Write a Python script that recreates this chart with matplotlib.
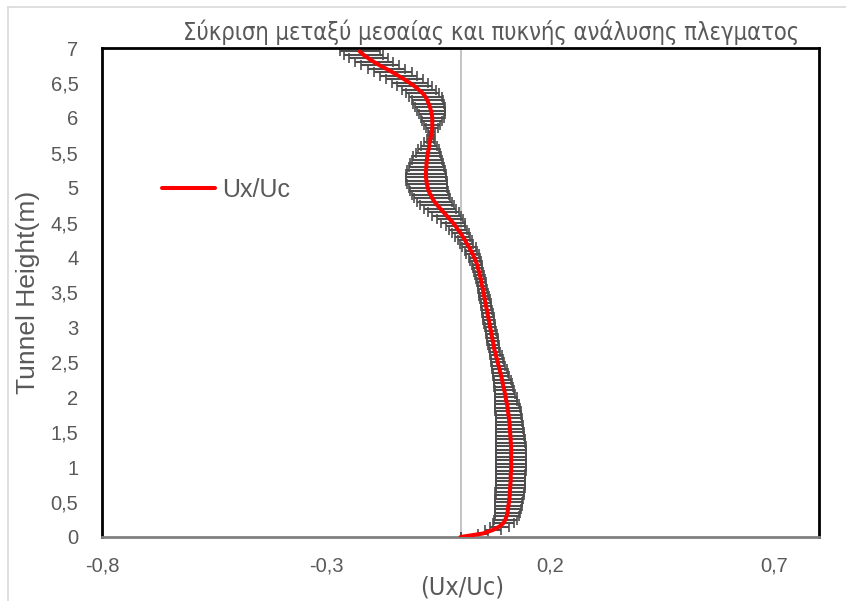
import matplotlib
matplotlib.use("Agg")
import matplotlib.pyplot as plt
from matplotlib.lines import Line2D

# ---- data ----
heights = [0.00, 0.05, 0.10, 0.15, 0.20, 0.25, 0.30, 0.35, 0.40, 0.45,
           0.50, 0.55, 0.60, 0.65, 0.70, 0.75, 0.80, 0.85, 0.90, 0.95,
           1.00, 1.05, 1.10, 1.15, 1.20, 1.25, 1.30, 1.35, 1.40, 1.45,
           1.50, 1.55, 1.60, 1.65, 1.70, 1.75, 1.80, 1.85, 1.90, 1.95,
           2.00, 2.05, 2.10, 2.15, 2.20, 2.25, 2.30, 2.35, 2.40, 2.45,
           2.50, 2.55, 2.60, 2.65, 2.70, 2.75, 2.80, 2.85, 2.90, 2.95,
           3.00, 3.05, 3.10, 3.15, 3.20, 3.25, 3.30, 3.35, 3.40, 3.45,
           3.50, 3.55, 3.60, 3.65, 3.70, 3.75, 3.80, 3.85, 3.90, 3.95,
           4.00, 4.05, 4.10, 4.15, 4.20, 4.25, 4.30, 4.35, 4.40, 4.45,
           4.50, 4.55, 4.60, 4.65, 4.70, 4.75, 4.80, 4.85, 4.90, 4.95,
           5.00, 5.05, 5.10, 5.15, 5.20, 5.25, 5.30, 5.35, 5.40, 5.45,
           5.50, 5.55, 5.60, 5.65, 5.70, 5.75, 5.80, 5.85, 5.90, 5.95,
           6.00, 6.05, 6.10, 6.15, 6.20, 6.25, 6.30, 6.35, 6.40, 6.45,
           6.50, 6.55, 6.60, 6.65, 6.70, 6.75, 6.80, 6.85, 6.90, 6.95]

ux_uc = [0.000, 0.050, 0.072, 0.087, 0.096, 0.100, 0.103, 0.105, 0.106, 0.107,
         0.108, 0.109, 0.110, 0.110, 0.111, 0.111, 0.112, 0.112, 0.112, 0.113,
         0.113, 0.113, 0.113, 0.113, 0.113, 0.113, 0.113, 0.112, 0.112, 0.111,
         0.111, 0.110, 0.110, 0.109, 0.108, 0.107, 0.106, 0.105, 0.104, 0.102,
         0.101, 0.099, 0.098, 0.096, 0.094, 0.093, 0.091, 0.089, 0.087, 0.085,
         0.083, 0.081, 0.079, 0.077, 0.075, 0.074, 0.072, 0.071, 0.069, 0.068,
         0.066, 0.065, 0.063, 0.062, 0.060, 0.059, 0.057, 0.056, 0.054, 0.053,
         0.051, 0.050, 0.048, 0.046, 0.045, 0.043, 0.041, 0.039, 0.037, 0.034,
         0.031, 0.027, 0.023, 0.019, 0.014, 0.010, 0.005, 0.000, -0.006, -0.011,
         -0.017, -0.024, -0.031, -0.038, -0.045, -0.052, -0.058, -0.063, -0.067, -0.071,
         -0.073, -0.075, -0.076, -0.077, -0.077, -0.077, -0.076, -0.076, -0.075, -0.074,
         -0.073, -0.071, -0.070, -0.069, -0.067, -0.066, -0.064, -0.063, -0.063, -0.063,
         -0.063, -0.064, -0.066, -0.068, -0.071, -0.074, -0.078, -0.084, -0.093, -0.102,
         -0.113, -0.125, -0.138, -0.151, -0.165, -0.180, -0.193, -0.205, -0.216, -0.225]

error = [0.000, 0.012, 0.018, 0.022, 0.024, 0.026, 0.027, 0.028, 0.029, 0.030,
         0.030, 0.031, 0.031, 0.032, 0.032, 0.032, 0.033, 0.033, 0.033, 0.033,
         0.033, 0.033, 0.033, 0.033, 0.033, 0.033, 0.033, 0.032, 0.032, 0.031,
         0.031, 0.030, 0.030, 0.029, 0.029, 0.028, 0.028, 0.027, 0.026, 0.025,
         0.024, 0.023, 0.022, 0.021, 0.020, 0.019, 0.018, 0.017, 0.016, 0.015,
         0.014, 0.013, 0.013, 0.012, 0.012, 0.012, 0.012, 0.012, 0.012, 0.012,
         0.012, 0.012, 0.012, 0.012, 0.012, 0.012, 0.011, 0.011, 0.011, 0.011,
         0.010, 0.010, 0.010, 0.010, 0.010, 0.010, 0.010, 0.010, 0.011, 0.012,
         0.013, 0.014, 0.014, 0.015, 0.015, 0.016, 0.017, 0.018, 0.020, 0.022,
         0.026, 0.029, 0.032, 0.034, 0.036, 0.038, 0.039, 0.040, 0.041, 0.042,
         0.043, 0.044, 0.045, 0.045, 0.044, 0.042, 0.040, 0.037, 0.034, 0.031,
         0.027, 0.023, 0.018, 0.013, 0.008, 0.004, 0.008, 0.013, 0.018, 0.022,
         0.026, 0.029, 0.031, 0.033, 0.034, 0.035, 0.036, 0.037, 0.038, 0.039,
         0.040, 0.041, 0.041, 0.042, 0.042, 0.043, 0.043, 0.044, 0.044, 0.045]

x_ticks = [-0.8, -0.3, 0.2, 0.7]
x_tick_labels = ["-0,8", "-0,3", "0,2", "0,7"]
y_ticks = [0, 0.5, 1, 1.5, 2, 2.5, 3, 3.5, 4, 4.5, 5, 5.5, 6, 6.5, 7]
y_tick_labels = ["0", "0,5", "1", "1,5", "2", "2,5", "3", "3,5", "4", "4,5",
                 "5", "5,5", "6", "6,5", "7"]

title = "Σύκριση μεταξύ μεσαίας και πυκνής ανάλυσης πλεγματος"
series_name = "Ux/Uc"
x_label = "(Ux/Uc)"
y_label = "Tunnel Height(m)"

# ---- figure ----
W, H = 846, 601
fig = plt.figure(figsize=(W / 100, H / 100), dpi=100)
normal = ["Liberation Sans", "DejaVu Sans"]
grey = "#595959"

ax = fig.add_axes([102 / W, 1 - 537 / H, (819 - 102) / W, (537 - 48) / H])
ax.set_xlim(-0.8, 0.8)
ax.set_ylim(0, 7)

ax.axvline(0, color="#bfbfbf", lw=1.3, zorder=1)

ax.errorbar(ux_uc, heights, xerr=error, fmt="none", ecolor="#4d4d4d",
            elinewidth=1.5, capsize=3.6, capthick=1.2, zorder=2)
line, = ax.plot(ux_uc, heights, color="#ff0000", lw=2.9, zorder=3,
                solid_capstyle="round")

ax.set_xticks(x_ticks)
ax.set_xticklabels(x_tick_labels)
ax.set_yticks(y_ticks)
ax.set_yticklabels(y_tick_labels)
ax.tick_params(axis="both", length=0, colors=grey, labelsize=14.5)
ax.tick_params(axis="y", pad=17)
ax.tick_params(axis="x", pad=14)
for lab in ax.get_xticklabels() + ax.get_yticklabels():
    lab.set_family(normal)

for side in ("left", "top", "right"):
    ax.spines[side].set_color("black")
    ax.spines[side].set_linewidth(2.0)
ax.spines["bottom"].set_color("#808080")
ax.spines["bottom"].set_linewidth(2.0)

fig.text(491 / W, 1 - 32 / H, title, ha="center", va="center",
         fontsize=17, color=grey, family="DejaVu Sans", fontstretch="condensed")
fig.text(462 / W, 1 - 587 / H, x_label, ha="center", va="center",
         fontsize=18, color=grey, family="DejaVu Sans", fontstretch="condensed")
fig.text(28 / W, 1 - 292 / H, y_label, ha="center", va="center",
         rotation=90, fontsize=19, color=grey, family=normal)

leg = ax.legend([line], [series_name], loc="center left",
                bbox_to_anchor=(162 / W, 1 - 190 / H),
                bbox_transform=fig.transFigure, frameon=False,
                fontsize=18, handlelength=2.1, handletextpad=0.3,
                borderpad=0, borderaxespad=0)
for t in leg.get_texts():
    t.set_color(grey)
    t.set_family(normal)

# outer chart border (light grey)
fig.add_artist(Line2D([8 / W, 8 / W], [0, 1 - 7 / H], transform=fig.transFigure,
                      color="#d9d9d9", lw=1.2))
fig.add_artist(Line2D([8 / W, 1], [1 - 7 / H, 1 - 7 / H], transform=fig.transFigure,
                      color="#d9d9d9", lw=1.2))

fig.savefig("out.png", dpi=100)
